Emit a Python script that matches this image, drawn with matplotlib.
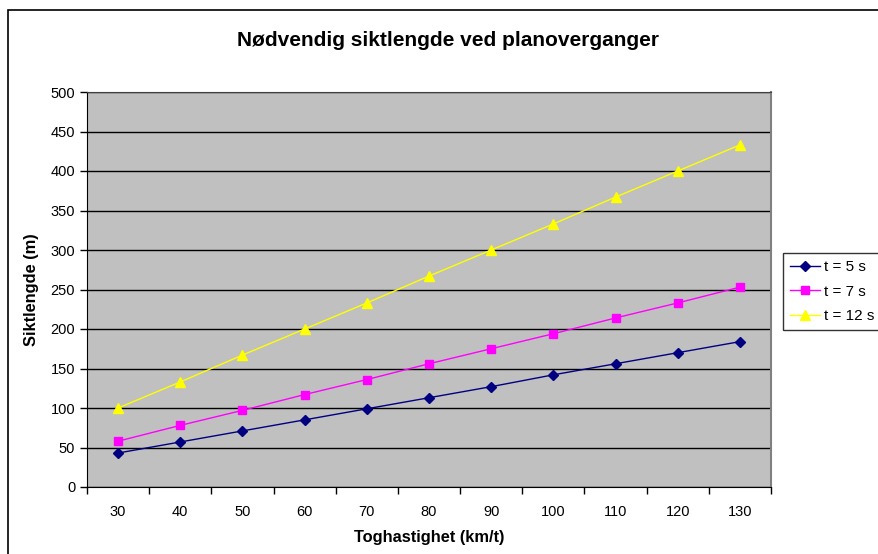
import matplotlib
matplotlib.use("Agg")
import matplotlib.pyplot as plt
import numpy as np
from matplotlib.patches import Rectangle

speeds = [30, 40, 50, 60, 70, 80, 90, 100, 110, 120, 130]
t5 = [43, 57, 71, 85, 99, 113, 127, 142, 156, 170, 184]
t7 = [58, 78, 97, 117, 136, 156, 175, 194, 214, 233, 253]
t12 = [100, 133, 167, 200, 233, 267, 300, 333, 367, 400, 433]
series_labels = ["t = 5 s", "t = 7 s", "t = 12 s"]

plt.rcParams['font.family'] = ['Liberation Sans', 'DejaVu Sans']

fig = plt.figure(figsize=(8.79, 5.54), dpi=100)
fig.patches.append(Rectangle((8/879, -0.02), 1.0, (554-10)/554 + 0.02,
                             transform=fig.transFigure, fill=False,
                             edgecolor='black', linewidth=1.2, zorder=0))

ax = fig.add_axes([87/879, 1-487/554, (771-87)/879, (487-92)/554])
ax.set_facecolor('#C0C0C0')

x = np.arange(len(speeds))
ax.plot(x, t5, color='#000080', marker='D', markersize=5, linewidth=1, label=series_labels[0])
ax.plot(x, t7, color='#FF00FF', marker='s', markersize=6, linewidth=1, label=series_labels[1])
ax.plot(x, t12, color='#FFFF00', marker='^', markersize=6.5, linewidth=1, label=series_labels[2])

ax.set_xlim(-0.5, len(speeds) - 0.5)
ax.set_ylim(0, 500)
ax.set_yticks(np.arange(0, 501, 50))
ax.yaxis.grid(True, color='black', linewidth=1)
ax.set_axisbelow(True)

ax.set_xticks(np.arange(-0.5, len(speeds)), labels=[''] * (len(speeds) + 1))
ax.set_xticks(x, labels=[str(s) for s in speeds], minor=True)
ax.tick_params(axis='x', which='minor', length=0, pad=13, labelsize=10.5)
ax.tick_params(axis='x', which='major', length=5, direction='out', width=1)
ax.tick_params(axis='y', length=5, direction='out', labelsize=10.5, width=1)

ax.spines['top'].set_color('#404040')
ax.spines['right'].set_color('#808080')
ax.spines['right'].set_linewidth(1.5)
ax.spines['left'].set_color('black')
ax.spines['bottom'].set_color('black')

ax.set_xlabel('Toghastighet (km/t)', fontsize=11.8, fontweight='bold', labelpad=8)
ax.set_ylabel('Siktlengde (m)', fontsize=11.8, fontweight='bold', labelpad=8)
fig.text(448/879, 1-40/554, 'Nødvendig siktlengde ved planoverganger',
         ha='center', va='center', fontsize=15, fontweight='bold')

leg = fig.legend(loc='upper left', bbox_to_anchor=(783/879, 1-253/554),
                 frameon=True, fancybox=False, edgecolor='black', fontsize=11,
                 borderpad=0.45, handlelength=2.0, labelspacing=0.7, handletextpad=0.25,
                 borderaxespad=0)
leg.get_frame().set_linewidth(1)

fig.savefig('out.png', dpi=100)
